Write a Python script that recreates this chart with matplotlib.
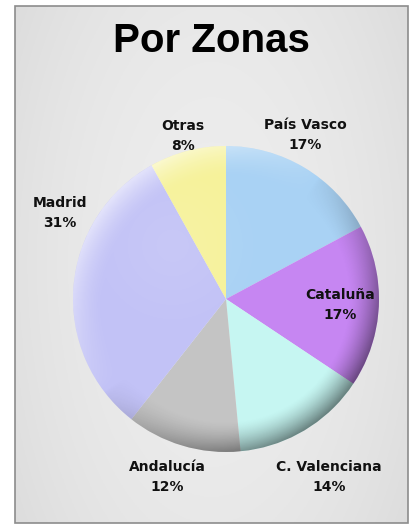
import numpy as np
import matplotlib
matplotlib.use('Agg')
from matplotlib import pyplot as plt
from matplotlib.patches import Circle, Rectangle

# data
zonas = ['País Vasco', 'Cataluña', 'C. Valenciana', 'Andalucía', 'Madrid', 'Otras']
valores = [17, 17, 14, 12, 31, 8]
colores = ['#a9d2f4', '#c686f2', '#c6f6f2', '#c4c4c4', '#c2c2f6', '#f6f29a']
titulo = 'Por Zonas'

# label positions in pixels (x, y from top)
pos_lab = [(305, 135), (340, 305), (329, 477), (167, 477), (60, 213), (183, 136)]

W, H = 412, 529
fig = plt.figure(figsize=(W/100, H/100), dpi=100)
fig.patch.set_facecolor('white')
ax = fig.add_axes([0, 0, 1, 1])

# frame with soft gray gradient
fx0, fy0, fx1, fy1 = 15, 6, 408, 523
gx, gy = np.meshgrid(np.linspace(-1, 1, 200), np.linspace(-1, 1, 260))
bg = 0.93 - 0.045*(gx**2) - 0.02*(gy**2)
ax.imshow(np.dstack([bg, bg, bg]), extent=(fx0, fx1, H-fy1, H-fy0), zorder=0, aspect='auto')
ax.add_patch(Rectangle((fx0, H-fy1), fx1-fx0, fy1-fy0, fill=False, ec='#8c8c8c', lw=1.2, zorder=1))

# pie
cx, cy, R = 226, H-299, 153
wedges, _ = ax.pie(valores, colors=colores, startangle=90, counterclock=False,
                   center=(cx, cy), radius=R, frame=True,
                   wedgeprops=dict(edgecolor='none', linewidth=0))
for w in wedges:
    w.set_zorder(2)

# soft 3D shading over the pie (positive = lighten, negative = darken)
n = 300
xx, yy = np.meshgrid(np.linspace(-1, 1, n), np.linspace(1, -1, n))
r = np.sqrt(xx**2 + yy**2)
ang = (xx - yy)/np.sqrt(2)            # +1 toward bottom-right
rim = np.clip((r - 0.80)/0.20, 0, 1)**1.5
s = -0.40*rim*np.clip(ang/np.maximum(r, 1e-6) + 0.2, 0, 1.2)
s += 0.60*rim*np.clip(-ang/np.maximum(r, 1e-6) - 0.1, 0, 1)
s += 0.10*np.clip(1 - np.sqrt((xx + 0.35)**2 + (yy - 0.35)**2)/0.6, 0, 1)
shade = np.zeros((n, n, 4))
shade[..., :3] = np.where(s[..., None] > 0, 1.0, 0.0)
shade[..., 3] = np.clip(np.abs(s), 0, 0.7)
im = ax.imshow(shade, extent=(cx-R, cx+R, cy-R, cy+R), zorder=3, aspect='auto',
               interpolation='bilinear')
im.set_clip_path(Circle((cx, cy), R, transform=ax.transData))

ax.set_xlim(0, W)
ax.set_ylim(0, H)
ax.set_axis_off()

# title
ax.text(211, H-41, titulo, ha='center', va='center', fontsize=29,
        fontweight='bold', family='Liberation Sans', color='black', zorder=5)

# labels
for z, v, (lx, ly) in zip(zonas, valores, pos_lab):
    ax.text(lx, H-ly, '{}\n{}%'.format(z, v), ha='center', va='center',
            fontsize=10, fontweight='bold', family='DejaVu Sans',
            color='#111111', linespacing=1.5, zorder=5)

plt.savefig('out.png', dpi=100)
